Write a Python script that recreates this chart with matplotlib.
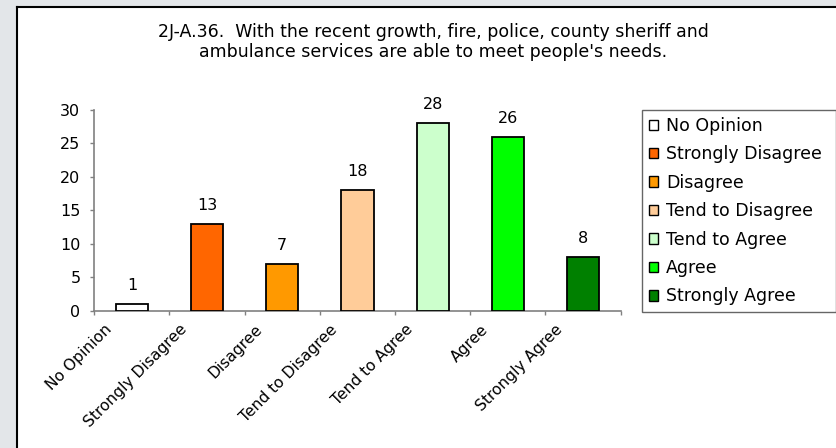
import matplotlib
matplotlib.use('Agg')

import numpy as np
import matplotlib.pyplot as plt
import matplotlib.transforms as mtransforms
from matplotlib.patches import Rectangle, Patch

# survey answers
categories = ['No Opinion', 'Strongly Disagree', 'Disagree', 'Tend to Disagree',
              'Tend to Agree', 'Agree', 'Strongly Agree']
values = [1, 13, 7, 18, 28, 26, 8]
colors = ['#FFFFFF', '#FF6600', '#FF9900', '#FFCC99', '#CCFFCC', '#00FF00', '#008000']
yticks = [0, 5, 10, 15, 20, 25, 30]
title = ("2J-A.36.  With the recent growth, fire, police, county sheriff and\n"
         "ambulance services are able to meet people's needs.")

plt.rcParams['font.family'] = ['DejaVu Sans']

W, H = 837, 448
fig = plt.figure(figsize=(W / 100, H / 100), dpi=100, facecolor='#E3E6E9')

# white chart panel with black border on the left and top
fig.patches.append(Rectangle((17 / W, 0), 1 - 17 / W, 1 - 7 / H, transform=fig.transFigure,
                             facecolor='white', edgecolor='none', zorder=-5))
fig.lines.append(plt.Line2D([17 / W, 17 / W], [0, 1 - 7 / H], transform=fig.transFigure,
                            color='black', lw=1.5, zorder=-4))
fig.lines.append(plt.Line2D([17 / W, 1], [1 - 7 / H, 1 - 7 / H], transform=fig.transFigure,
                            color='black', lw=1.5, zorder=-4))

# axes placed in pixel terms
x0, x1, y0, y1 = 94.3, 620.7, 310.7, 110.0
ax = fig.add_axes([x0 / W, 1 - y0 / H, (x1 - x0) / W, (y0 - y1) / H])
ax.set_facecolor('none')

x = np.arange(len(categories))
ax.bar(x, values, width=0.43, color=colors, edgecolor='black', linewidth=1.3, zorder=3)
for xi, v in zip(x, values):
    ax.annotate(str(v), (xi, v), xytext=(0, 8), textcoords='offset points',
                ha='center', va='bottom', fontsize=11.5)

ax.set_xlim(-0.5, len(categories) - 0.5)
ax.set_ylim(0, 30)
ax.set_yticks(yticks)
ax.tick_params(axis='y', direction='out', length=3, width=1, color='#808080',
               pad=7, labelsize=11.5)

# labels at category centres, tick marks between categories (Excel style)
ax.set_xticks(x)
ax.set_xticklabels(categories)
ax.set_xticks(np.arange(len(categories) + 1) - 0.5, minor=True)
ax.tick_params(axis='x', which='major', length=0, pad=8, labelsize=11.2)
ax.tick_params(axis='x', which='minor', direction='out', length=3, width=1, color='#808080')
shift = mtransforms.ScaledTranslation(-20 / 72, 0, fig.dpi_scale_trans)
for lab in ax.get_xticklabels():
    lab.set_rotation(45)
    lab.set_ha('right')
    lab.set_va('top')
    lab.set_rotation_mode('anchor')
    lab.set_transform(lab.get_transform() + shift)

for s in ['top', 'right']:
    ax.spines[s].set_visible(False)
for s in ['left', 'bottom']:
    ax.spines[s].set_color('#808080')
    ax.spines[s].set_linewidth(1.2)

fig.text(433 / W, 1 - 42 / H, title, ha='center', va='center', fontsize=12.5,
         linespacing=1.1)

handles = [Patch(facecolor=c, edgecolor='black', linewidth=1) for c in colors]
leg = fig.legend(handles, categories, loc='upper left',
                 bbox_to_anchor=(642 / W, 1 - 311 / H, (836 - 642) / W, (311 - 110) / H),
                 mode='expand', fontsize=12.5, frameon=True, fancybox=False,
                 handlelength=0.55, handleheight=0.55, handletextpad=0.45,
                 labelspacing=0.6, borderpad=0.4, borderaxespad=0)
leg.get_frame().set_edgecolor('#404040')
leg.get_frame().set_linewidth(1)

plt.savefig('out.png', dpi=100, facecolor=fig.get_facecolor())
